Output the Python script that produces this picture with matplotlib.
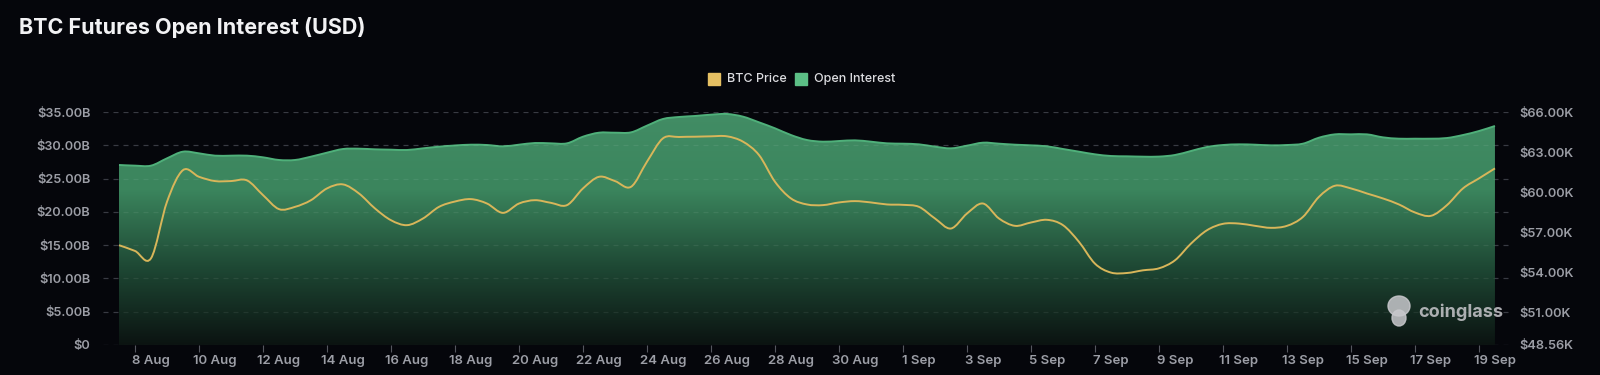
import numpy as np
import matplotlib
matplotlib.use("Agg")
import matplotlib.pyplot as plt
from matplotlib.colors import LinearSegmentedColormap
from matplotlib.patches import Rectangle, Ellipse, PathPatch
from matplotlib.path import Path

# half-day samples, 7 Aug 00:00 .. 19 Sep 00:00
open_interest_b = [
    27.04, 26.94, 26.94, 28.04, 29.04, 28.79, 28.44, 28.44, 28.44, 28.19,
    27.79, 27.79, 28.29, 28.89, 29.44, 29.49, 29.39, 29.34, 29.29, 29.54,
    29.79, 29.97, 30.09, 30.04, 29.84, 30.09, 30.34, 30.29, 30.29, 31.29,
    31.89, 31.89, 31.94, 32.95, 33.95, 34.25, 34.40, 34.60, 34.70, 34.30,
    33.45, 32.55, 31.54, 30.79, 30.54, 30.64, 30.74, 30.54, 30.29, 30.24,
    30.14, 29.79, 29.54, 29.94, 30.39, 30.24, 30.09, 29.99, 29.84, 29.44,
    29.04, 28.64, 28.39, 28.34, 28.29, 28.30, 28.54, 29.14, 29.74, 30.04,
    30.14, 30.09, 29.99, 30.04, 30.24, 31.14, 31.64, 31.64, 31.64, 31.19,
    30.99, 30.99, 30.99, 31.09, 31.54, 32.14, 32.90,
]
btc_price_k = [
    56.03, 55.60, 55.05, 59.28, 61.65, 61.15, 60.83, 60.83, 60.88, 59.78,
    58.73, 58.90, 59.40, 60.28, 60.58, 59.90, 58.78, 57.90, 57.53, 58.03,
    58.90, 59.30, 59.48, 59.15, 58.45, 59.15, 59.40, 59.20, 59.03, 60.28,
    61.15, 60.83, 60.40, 62.28, 64.03, 64.13, 64.15, 64.18, 64.18, 63.78,
    62.78, 60.78, 59.53, 59.08, 59.03, 59.23, 59.33, 59.23, 59.08, 59.05,
    58.90, 58.03, 57.28, 58.40, 59.15, 58.03, 57.48, 57.73, 57.93, 57.53,
    56.28, 54.65, 53.98, 53.95, 54.15, 54.30, 54.90, 56.15, 57.15, 57.63,
    57.65, 57.48, 57.33, 57.48, 58.15, 59.65, 60.48, 60.28, 59.90, 59.53,
    59.08, 58.48, 58.23, 59.03, 60.28, 61.03, 61.78,
]
date_labels = ["8 Aug", "10 Aug", "12 Aug", "14 Aug", "16 Aug", "18 Aug", "20 Aug",
               "22 Aug", "24 Aug", "26 Aug", "28 Aug", "30 Aug", "1 Sep", "3 Sep",
               "5 Sep", "7 Sep", "9 Sep", "11 Sep", "13 Sep", "15 Sep", "17 Sep",
               "19 Sep"]
left_ticks = [0, 5, 10, 15, 20, 25, 30, 35]
right_ticks = [48.56, 51, 54, 57, 60, 63, 66]

BG = "#05060b"
GRID = "#2b2d35"
TXT = "#9c9ea6"
GREEN_LINE = "#4fb07a"
YELLOW = "#d8b65a"

plt.rcParams["font.family"] = ["Inter", "DejaVu Sans"]


def smooth_path(x, y, close_to=None):
    # catmull-rom style bezier through the samples (like echarts smooth lines)
    pts = np.column_stack([x, y])
    n = len(pts)
    verts = [pts[0]]
    codes = [Path.MOVETO]
    for i in range(n - 1):
        p0 = pts[max(i - 1, 0)]
        p1 = pts[i]
        p2 = pts[i + 1]
        p3 = pts[min(i + 2, n - 1)]
        verts += [p1 + (p2 - p0) / 6.0, p2 - (p3 - p1) / 6.0, p2]
        codes += [Path.CURVE4] * 3
    if close_to is not None:
        verts += [(x[-1], close_to), (x[0], close_to), pts[0]]
        codes += [Path.LINETO, Path.LINETO, Path.CLOSEPOLY]
    return Path(verts, codes)


t = np.arange(len(open_interest_b)) * 0.5   # days since 7 Aug
oi = np.array(open_interest_b)
btc = np.array(btc_price_k)

fig = plt.figure(figsize=(16, 3.75), dpi=100, facecolor=BG)
ax = fig.add_axes([103 / 1600, 30 / 375, 1407 / 1600, 233 / 375])
ax.set_facecolor(BG)
ax.set_xlim(-0.5, 43.47)
ax.set_ylim(0, 35)

# gradient area under open interest
cmap = LinearSegmentedColormap.from_list("oi", ["#0b1311", "#1e4834", "#3b855d", "#428d65"])
grad = np.linspace(0, 1, 256).reshape(-1, 1)
img = ax.imshow(grad, extent=[t[0], t[-1], 0, 35], origin="lower", cmap=cmap,
                aspect="auto", zorder=2)
img.set_clip_path(smooth_path(t, oi, close_to=0), transform=ax.transData)
ax.add_patch(PathPatch(smooth_path(t, oi), fill=False, edgecolor=GREEN_LINE,
                       lw=1.4, zorder=3))

for v in left_ticks:
    ax.axhline(v, color=GRID, lw=0.9, ls=(0, (4, 4)), zorder=1)
    ax.axhline(v, color="#ffffff", alpha=0.07, lw=0.9, ls=(0, (4, 4)), zorder=3.5)

ax.set_yticks(left_ticks)
ax.set_yticklabels(["$0"] + ["$%.2fB" % v for v in left_ticks[1:]])
ax.set_xticks(np.arange(1, 44, 2))
ax.set_xticklabels(date_labels)
ax.set_xticks(np.arange(0.5, 43, 2), minor=True)
ax.tick_params(axis="x", which="major", length=0, pad=7, colors=TXT, labelsize=9.5)
ax.tick_params(axis="x", which="minor", length=5, color="#55575f", width=0.8)
ax.tick_params(axis="y", length=0, pad=9, colors=TXT, labelsize=9.2)
for s in ax.spines.values():
    s.set_visible(False)
for lbl in ax.get_xticklabels() + ax.get_yticklabels():
    lbl.set_fontweight("semibold")

# BTC price on the right axis
ax2 = ax.twinx()
ax2.patch.set_visible(False)
ax2.set_ylim(48.56, 66)
ax2.add_patch(PathPatch(smooth_path(t, btc), fill=False, edgecolor=YELLOW,
                        lw=1.4, zorder=4))
ax2.set_yticks(right_ticks)
ax2.set_yticklabels(["$%.2fK" % v for v in right_ticks])
ax2.tick_params(axis="y", length=0, pad=7, colors=TXT, labelsize=9.2)
for s in ax2.spines.values():
    s.set_visible(False)
for lbl in ax2.get_yticklabels():
    lbl.set_fontweight("semibold")

# title
fig.text(19 / 1600, 1 - 27 / 375, "BTC Futures Open Interest (USD)", color="#f2f2f4",
         fontsize=15.5, fontweight="bold", va="center", ha="left")

# legend
fig.patches.append(Rectangle((708 / 1600, 1 - 85 / 375), 12 / 1600, 12 / 375,
                             transform=fig.transFigure, color="#e6c063", figure=fig))
fig.text(727 / 1600, 1 - 79 / 375, "BTC Price", color="#dcdce0", fontsize=9,
         va="center", ha="left", fontweight="medium")
fig.patches.append(Rectangle((795 / 1600, 1 - 85 / 375), 12 / 1600, 12 / 375,
                             transform=fig.transFigure, color="#5cbf86", figure=fig))
fig.text(814 / 1600, 1 - 79 / 375, "Open Interest", color="#dcdce0", fontsize=9,
         va="center", ha="left", fontweight="medium")

# watermark
fig.text(1418 / 1600, 1 - 312 / 375, "coinglass", color="#c8c8cc", fontsize=13,
         fontweight="bold", va="center", ha="left", alpha=0.85)
fig.patches.append(Ellipse((1399 / 1600, 1 - 306 / 375), 22 / 1600, 20 / 375,
                           transform=fig.transFigure, color="#c8c8cc", alpha=0.85,
                           figure=fig))
fig.patches.append(Ellipse((1399 / 1600, 1 - 318 / 375), 14 / 1600, 16 / 375,
                           transform=fig.transFigure, color="#c8c8cc", alpha=0.85,
                           figure=fig))

fig.savefig("out.png", dpi=100, facecolor=BG)
